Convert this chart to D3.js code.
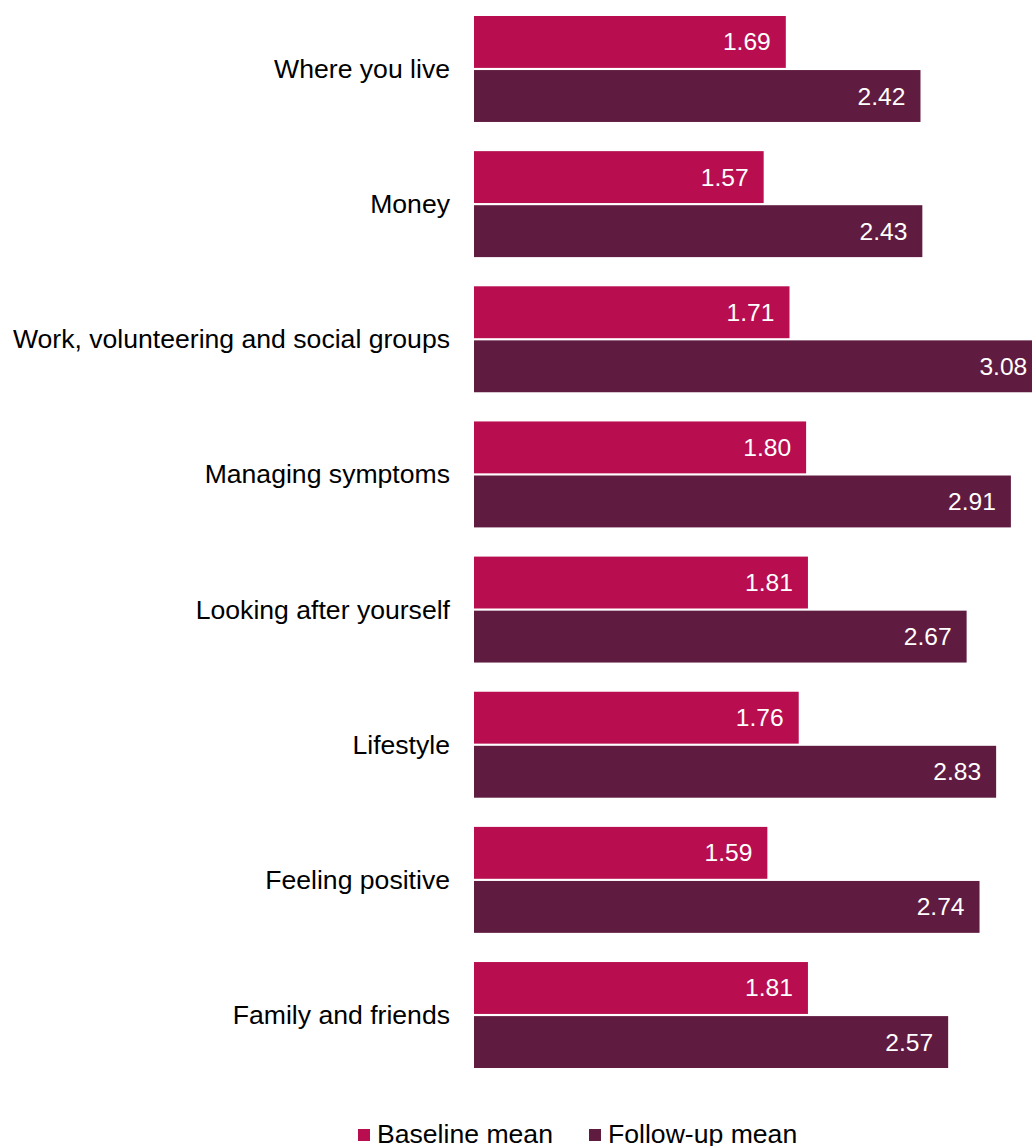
<!DOCTYPE html>
<html>
<head>
<meta charset="utf-8">
<script src="https://cdn.jsdelivr.net/npm/d3@7"></script>
<style>
  body { margin: 0; background: #fff; }
  svg { display: block; font-family: "Liberation Sans", Arial, sans-serif; }
</style>
</head>
<body>
<svg id="chart" width="1032" height="1146"></svg>
<script>
const categories = ["Where you live", "Money", "Work, volunteering and social groups", "Managing symptoms",
    "Looking after yourself", "Lifestyle", "Feeling positive", "Family and friends"]
const seriesNames = ["Baseline mean", "Follow-up mean"]
const baseline = [1.69, 1.57, 1.71, 1.80, 1.81, 1.76, 1.59, 1.81]
const followUp = [2.42, 2.43, 3.08, 2.91, 2.67, 2.83, 2.74, 2.57]
const colors = ["#b80e4f", "#601b40"]

const svg = d3.select("#chart")

const x = d3.scaleLinear().domain([0, 1]).range([474, 474 + 184.5])

const y = d3.scaleBand()
    .domain(categories)
    .range([16, 1068])
    .paddingInner(0.216)
    .paddingOuter(0)

const ySub = d3.scaleBand()
    .domain(seriesNames)
    .range([0, y.bandwidth()])
    .paddingInner(0.04)

const rows = categories.map((c, i) => ({ cat: c, values: [baseline[i], followUp[i]] }))

const group = svg.selectAll("g.row")
    .data(rows)
    .join("g")
    .attr("class", "row")
    .attr("transform", d => `translate(0,${y(d.cat)})`)

// category labels
group.append("text")
    .attr("x", 450)
    .attr("y", y.bandwidth() / 2)
    .attr("text-anchor", "end")
    .attr("dominant-baseline", "central")
    .attr("font-size", 26.6)
    .attr("fill", "#000")
    .text(d => d.cat)

const bars = group.selectAll("g.bar")
    .data(d => d.values.map((v, j) => ({ v, s: seriesNames[j], j })))
    .join("g")
    .attr("class", "bar")

bars.append("rect")
    .attr("x", x(0))
    .attr("y", d => ySub(d.s))
    .attr("width", d => x(d.v) - x(0))
    .attr("height", ySub.bandwidth())
    .attr("fill", d => colors[d.j])

bars.append("text")
    .attr("x", d => x(d.v) - 15)
    .attr("y", d => ySub(d.s) + ySub.bandwidth() / 2)
    .attr("text-anchor", "end")
    .attr("dominant-baseline", "central")
    .attr("font-size", 24.6)
    .attr("fill", "#fff")
    .text(d => d3.format(".2f")(d.v))

// legend
const legendX = [358, 589]
const legend = svg.selectAll("g.legend")
    .data(seriesNames)
    .join("g")
    .attr("class", "legend")
    .attr("transform", (d, i) => `translate(${legendX[i]},1129)`)

legend.append("rect")
    .attr("width", 12)
    .attr("height", 12)
    .attr("fill", (d, i) => colors[i])

legend.append("text")
    .attr("x", 19)
    .attr("y", 14)
    .attr("font-size", 26.6)
    .attr("fill", "#000")
    .text(d => d)
</script>
</body>
</html>
